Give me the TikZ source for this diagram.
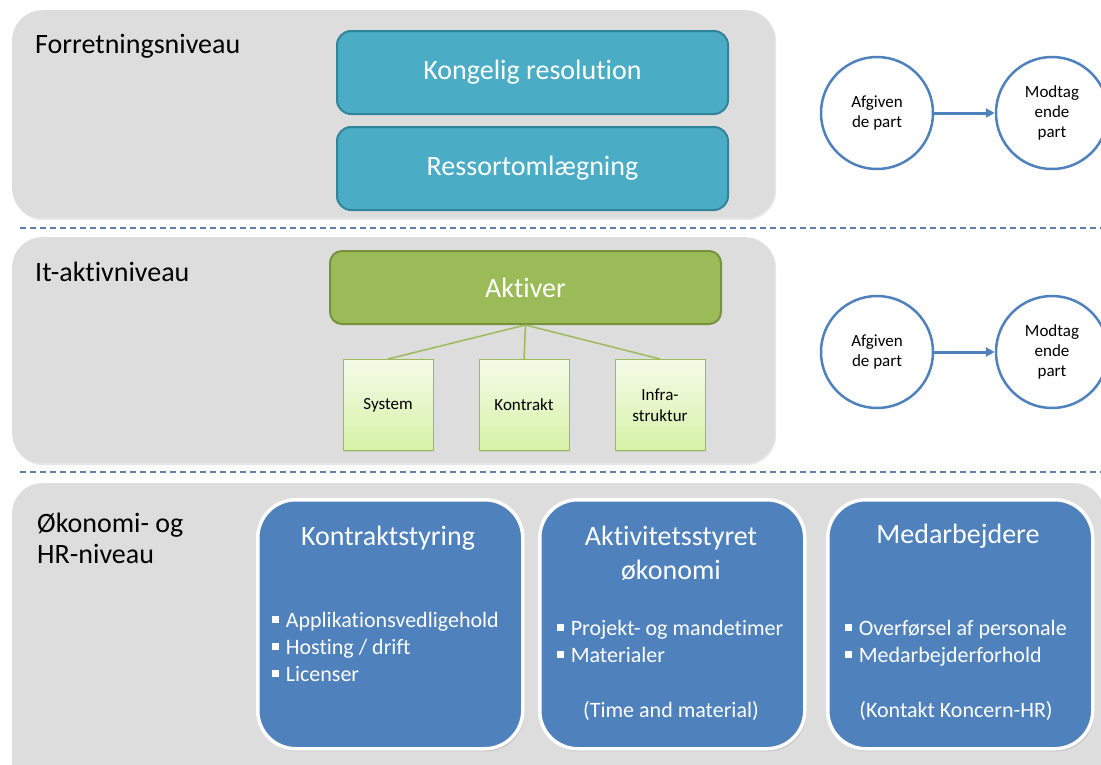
\documentclass[tikz,border=0pt]{standalone}
\usepackage{fontspec}
\setmainfont{Carlito}[Ligatures=NoCommon]
\usetikzlibrary{arrows.meta,shadows}
\definecolor{panelgray}{RGB}{221,221,221}
\definecolor{tealfill}{RGB}{75,172,198}
\definecolor{tealline}{RGB}{49,133,155}
\definecolor{greenfill}{RGB}{155,187,89}
\definecolor{greenline}{RGB}{118,146,60}
\definecolor{lgtop}{RGB}{245,251,232}
\definecolor{lgbot}{RGB}{214,242,166}
\definecolor{blueacc}{RGB}{79,129,189}
\definecolor{dashcol}{RGB}{96,128,172}
\newcommand\sqbul{\rule[0.2em]{0.3em}{0.3em}\hspace{0.32em}}
\tikzset{
  panel/.style={anchor=north west, rectangle, rounded corners=30pt, fill=panelgray, inner sep=0pt,
    drop shadow={shadow xshift=1pt, shadow yshift=-2pt, opacity=0.18}},
  lvl/.style={anchor=base west, font=\fontsize{28}{34}\selectfont, text=black, inner sep=0pt},
  tealbox/.style={anchor=north west, rectangle, rounded corners=14pt, fill=tealfill, draw=tealline,
    line width=2pt, inner sep=0pt, text=white, font=\fontsize{28}{34}\selectfont,
    minimum width=391pt, minimum height=83pt},
  greenbox/.style={anchor=north west, rectangle, rounded corners=12pt, fill=greenfill, draw=greenline,
    line width=2pt, inner sep=0pt, text=white, font=\fontsize{28}{34}\selectfont,
    minimum width=391pt, minimum height=73pt},
  sbox/.style={rectangle, draw=greenfill, line width=1pt, top color=lgtop, bottom color=lgbot,
    minimum width=90pt, minimum height=91pt, inner sep=0pt, align=center,
    font=\fontsize{17}{21}\selectfont,
    drop shadow={shadow xshift=1pt, shadow yshift=-1.5pt, opacity=0.2}},
  link/.style={draw=greenfill, line width=1.5pt},
  circ/.style={circle, draw=blueacc, line width=2.5pt, fill=white, minimum size=112pt, inner sep=0pt,
    align=center, font=\fontsize{17}{20}\selectfont},
  flow/.style={draw=blueacc, line width=3pt, -{Triangle[length=9pt,width=9pt]}},
  sep/.style={draw=dashcol, line width=1.2pt, dash pattern=on 6pt off 4pt},
  bbox/.style={anchor=north west, rectangle, rounded corners=38pt, fill=blueacc, draw=white,
    line width=3.5pt, minimum width=265pt, minimum height=249pt, inner sep=0pt,
    drop shadow={shadow xshift=1.5pt, shadow yshift=-2.5pt, opacity=0.3}},
  btitle/.style={anchor=base, text=white, font=\fontsize{28}{34}\selectfont, inner sep=0pt},
  bitem/.style={anchor=base west, text=white, font=\fontsize{22}{27}\selectfont, inner sep=0pt},
  bnote/.style={anchor=base, text=white, font=\fontsize{22}{27}\selectfont, inner sep=0pt},
}
\begin{document}
\begin{tikzpicture}[x=1pt,y=-1pt]
\useasboundingbox (0,0) rectangle (1101,764);
\clip (0,0) rectangle (1101,764);
\fill[white] (0,0) rectangle (1101,764);

% panels
\node[panel, minimum width=763pt, minimum height=208pt] (p1) at (12,10) {};
\node[panel, minimum width=763pt, minimum height=226pt] (p2) at (12,237) {};
\node[panel, minimum width=1092pt, minimum height=320pt] (p3) at (12,483) {};

% separators
\coordinate (d1s) at (20,228);
\coordinate (d1e) at (1101,228);
\coordinate (d2s) at (20,472);
\coordinate (d2e) at (1101,472);
\draw[sep] (d1s) -- (d1e);
\draw[sep] (d2s) -- (d2e);

% level labels
\node[lvl] (l1) at (35,53) {Forretningsniveau};
\node[lvl] (l2) at (35,281) {It-aktivniveau};
\node[lvl] (l3a) at (37,532) {Økonomi- og};
\node[lvl] (l3b) at (37,563) {HR-niveau};

% business level
\node[tealbox] (kr) at (336,30) {Kongelig resolution};
\node[tealbox] (ro) at (336,126) {Ressortomlægning};

% it level
\node[greenbox] (akt) at (329,250) {Aktiver};
\node[sbox] (sys) at (388,405) {System};
\node[sbox] (kon) at (524,405) {Kontrakt};
\node[sbox] (inf) at (660,405) {Infra-\\struktur};
\draw[link] (akt.south) -- (sys.north);
\draw[link] (akt.south) -- (kon.north);
\draw[link] (akt.south) -- (inf.north);

% parties
\node[circ] (a1) at (877,113) {Afgiven\\de part};
\node[circ] (m1) at (1052,113) {Modtag\\ende\\part};
\draw[flow] (a1) -- (m1);
\node[circ] (a2) at (877,352) {Afgiven\\de part};
\node[circ] (m2) at (1052,352) {Modtag\\ende\\part};
\draw[flow] (a2) -- (m2);

% economy / HR level
\node[bbox] (b1) at (256,498) {};
\node[bbox] (b2) at (538,498) {};
\node[bbox] (b3) at (826,498) {};

\node[btitle] (t1) at (388,545) {Kontraktstyring};
\node[bitem] (i11) at (272,627) {\sqbul Applikationsvedligehold};
\node[bitem] (i12) at (272,654) {\sqbul Hosting / drift};
\node[bitem] (i13) at (272,681) {\sqbul Licenser};

\node[btitle] (t2a) at (671,545) {Aktivitetsstyret};
\node[btitle] (t2b) at (671,579) {økonomi};
\node[bitem] (i21) at (557,635) {\sqbul Projekt- og mandetimer};
\node[bitem] (i22) at (557,662) {\sqbul Materialer};
\node[bnote] (n2) at (671,717) {(Time and material)};

\node[btitle] (t3) at (958,543) {Medarbejdere};
\node[bitem] (i31) at (845,635) {\sqbul Overførsel af personale};
\node[bitem] (i32) at (845,662) {\sqbul Medarbejderforhold};
\node[bnote] (n3) at (956,717) {(Kontakt Koncern-HR)};
\end{tikzpicture}
\end{document}
